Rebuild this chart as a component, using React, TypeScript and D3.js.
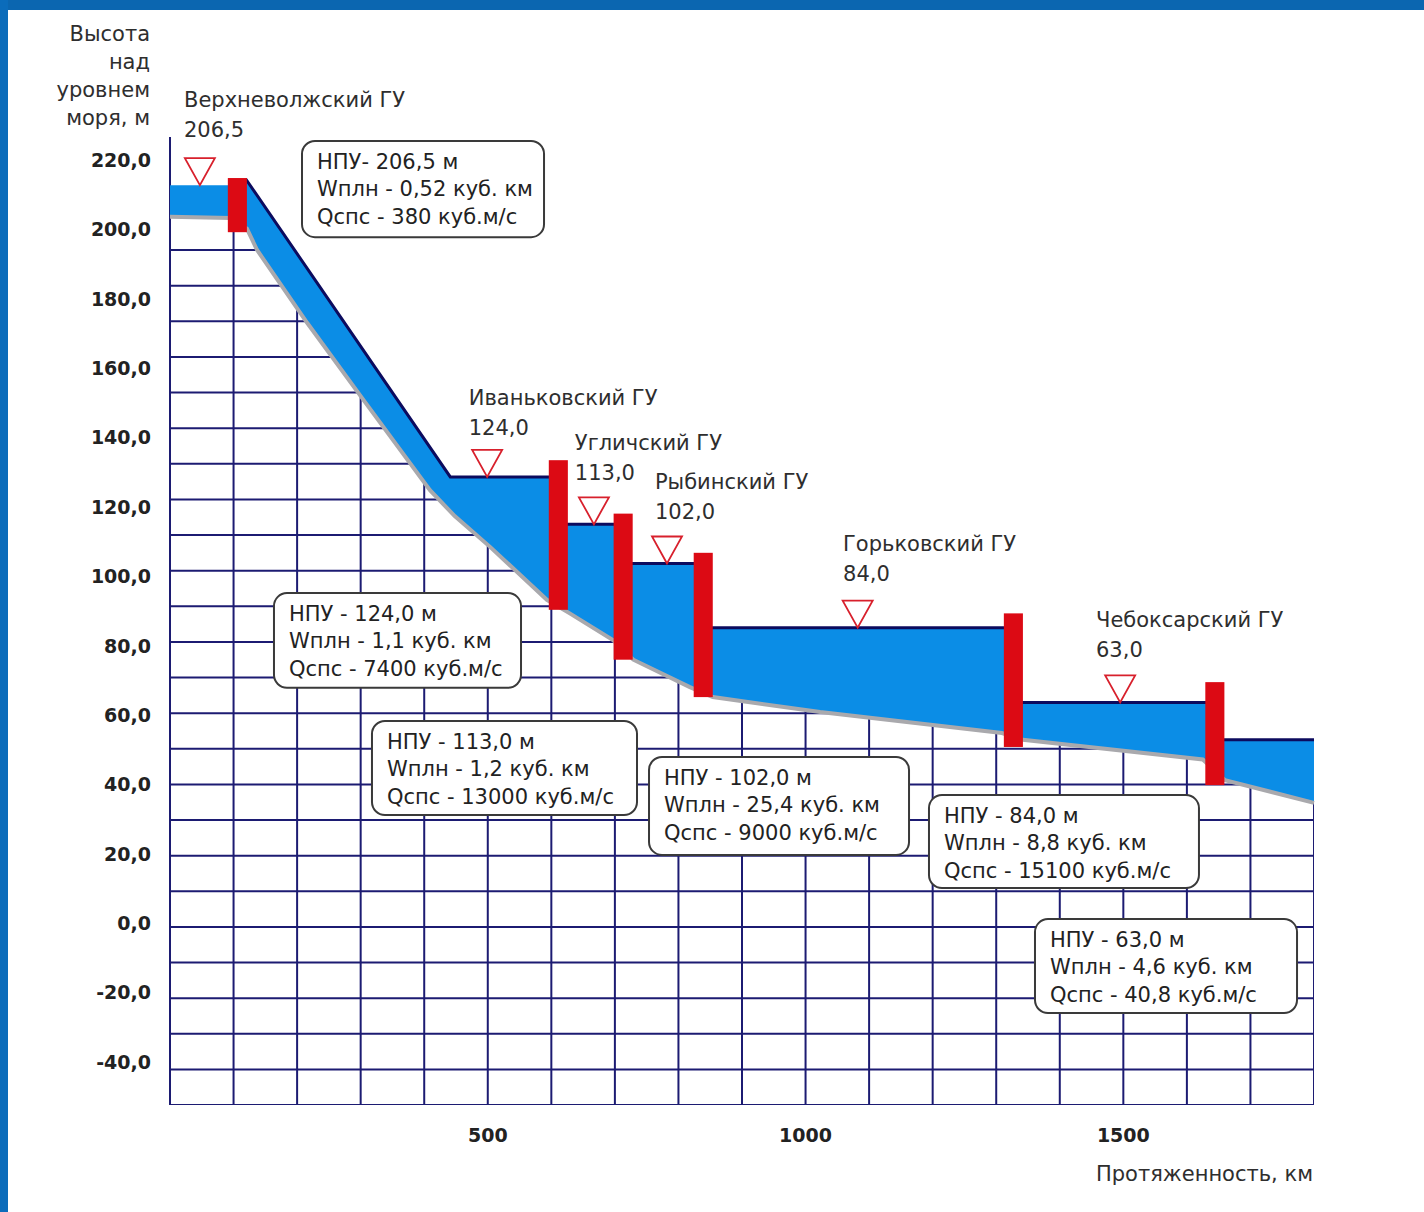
import * as d3 from "d3";

const width = 1424;
const height = 1212;

// river bed (grey line), km along the river / m above sea level
const bedKm = [0, 95, 121, 137, 216, 302, 409, 448, 504, 593, 629, 697, 729, 818, 854, 1023, 1309, 1342, 1625, 1660, 1800];
const bedM = [199.3, 199, 196, 190, 169.5, 148.5, 122.6, 115.3, 106.6, 91.8, 88, 80.5, 75, 67.3, 64.5, 60.3, 54.4, 52.5, 47, 41.2, 34.8];

// water surface of each reach
const reachKm = [[0, 106], [119, 441, 611], [611, 713], [713, 839], [839, 1327], [1327, 1644], [1644, 1800]];
const reachM = [[208.2, 208.2], [210, 126.3, 126.3], [113, 113], [102, 102], [84, 84], [63, 63], [52.5, 52.5]];

// dams
const damKm = [106, 611, 713, 839, 1327, 1644];
const damTop = [210.2, 131, 116, 105, 88, 68.7];
const damBottom = [195, 89, 75, 64.5, 50.5, 39.8];

// stations
const stationNames = ["Верхневолжский ГУ", "Иваньковский ГУ", "Угличский ГУ", "Рыбинский ГУ", "Горьковский ГУ", "Чебоксарский ГУ"];
const stationLevels = ["206,5", "124,0", "113,0", "102,0", "84,0", "63,0"];
const markerKm = [47, 499, 667, 782, 1082, 1495];
const markerM = [208.2, 126.3, 113, 102, 84, 63];
const labelKm = [22, 470, 637, 763, 1059, 1457];
const labelM = [232.4, 148.5, 136.1, 124.9, 107.5, 86.4];

// info boxes
const npuText = ["НПУ- 206,5 м", "НПУ - 124,0 м", "НПУ - 113,0 м", "НПУ - 102,0 м", "НПУ - 84,0 м", "НПУ - 63,0 м"];
const wText = ["Wплн - 0,52 куб. км", "Wплн - 1,1 куб. км", "Wплн - 1,2 куб. км", "Wплн - 25,4 куб. км", "Wплн - 8,8 куб. км", "Wплн - 4,6 куб. км"];
const qText = ["Qспс - 380 куб.м/с", "Qспс - 7400 куб.м/с", "Qспс - 13000 куб.м/с", "Qспс - 9000 куб.м/с", "Qспс - 15100 куб.м/с", "Qспс - 40,8 куб.м/с"];
const boxKm = [[207.7, 588.5], [163.6, 552.3], [317.8, 734.8], [753.7, 1162.8], [1194.2, 1619], [1361, 1773.3]];
const boxM = [[220.6, 193.6], [93.7, 67.1], [57.8, 31.4], [47.7, 20.2], [37.0, 10.9], [2.2, -24.2]];

const yTicks = [220, 200, 180, 160, 140, 120, 100, 80, 60, 40, 20, 0, -20, -40];
const xTicks = [500, 1000, 1500];
const yTitle = ["Высота", "над", "уровнем", "моря, м"];

const FONT = "'DejaVu Sans', sans-serif";
const TEXT = "#2e2e2e";
const GRID = "#1c1b72";
const WATER = "#0b8de6";
const SURFACE = "#0c0b5e";
const BED = "#a9a9ad";
const DAM = "#dc0a14";

export default function App() {
  const x = d3.scaleLinear([0, 1800], [170, 1314]);
  const y = d3.scaleLinear([190, -50], [250, 1105]);
  // tick labels of the original sit on their own, slightly compressed, spacing
  const yLabel = d3.scaleLinear([220, -40], [160, 1062]);

  const bed = d3.scaleLinear(bedKm, bedM);

  const bedLine = d3
    .line<number>()
    .x((k) => x(k))
    .y((k, i) => y(bedM[i]));

  const clipPath =
    (bedLine(bedKm) as string) + `L${x(1800)},${y(-50)}L${x(0)},${y(-50)}Z`;

  const reachAreas = reachKm.map((ks, r) => {
    const surf = d3.scaleLinear(ks, reachM[r]);
    const lo = ks[0];
    const hi = ks[ks.length - 1];
    const pts = Array.from(new Set([...ks, ...bedKm.filter((k) => k > lo && k < hi)])).sort((a, b) => a - b);
    const area = d3
      .area<number>()
      .x((k) => x(k))
      .y0((k) => y(bed(k)))
      .y1((k) => y(surf(k)));
    const top = d3
      .line<number>()
      .x((k) => x(k))
      .y((k) => y(surf(k)));
    return { area: area(pts) as string, top: top(ks) as string };
  });

  const hLines = d3.range(190, -51, -10);
  const vLines = d3.range(100, 1801, 100);

  const tri = (k: number, m: number) => {
    const cx = x(k);
    const cy = y(m);
    return `M${cx},${cy}L${cx - 15},${cy - 27}L${cx + 15},${cy - 27}Z`;
  };

  return (
    <div style={{ position: "absolute", left: 0, top: 0, background: "#fff" }}>
      <svg width={width} height={height} style={{ display: "block" }}>
        <rect width={width} height={height} fill="#fff" />
        <rect width={width} height={10} fill="#0b66b0" />
        <rect width={8} height={height} fill="#0b6cbb" />

        <defs>
          <clipPath id="below-bed">
            <path d={clipPath} />
          </clipPath>
        </defs>

        {/* grid, only below the river bed */}
        <g clipPath="url(#below-bed)" stroke={GRID} strokeWidth={2}>
          {hLines.map((m) => (
            <line key={"h" + m} x1={x(0)} x2={x(1800)} y1={y(m)} y2={y(m)} />
          ))}
          {vLines.map((k) => (
            <line key={"v" + k} x1={x(k)} x2={x(k)} y1={y(230)} y2={y(-50)} />
          ))}
        </g>
        <line x1={x(0)} x2={x(0)} y1={y(221.7)} y2={y(-50)} stroke={GRID} strokeWidth={2} />

        {/* water */}
        {reachAreas.map((r, i) => (
          <path key={"a" + i} d={r.area} fill={WATER} />
        ))}
        <path d={bedLine(bedKm) as string} fill="none" stroke={BED} strokeWidth={4} />
        {reachAreas.map((r, i) =>
          i === 0 ? null : (
            <path key={"t" + i} d={r.top} fill="none" stroke={SURFACE} strokeWidth={3} />
          ),
        )}

        {/* dams */}
        {damKm.map((k, i) => (
          <rect
            key={"d" + i}
            x={x(k - 15)}
            width={x(k + 15) - x(k - 15)}
            y={y(damTop[i])}
            height={y(damBottom[i]) - y(damTop[i])}
            fill={DAM}
          />
        ))}

        {/* level markers and names */}
        {markerKm.map((k, i) => (
          <path key={"m" + i} d={tri(k, markerM[i])} fill="#fff" stroke="#d8202c" strokeWidth={1.8} />
        ))}
        <g fontFamily={FONT} fontSize={21} fill={TEXT}>
          {stationNames.map((n, i) => (
            <g key={"s" + i}>
              <text x={x(labelKm[i])} y={y(labelM[i])} dy="0.36em">
                {n}
              </text>
              <text x={x(labelKm[i])} y={y(labelM[i]) + 30} dy="0.36em">
                {stationLevels[i]}
              </text>
            </g>
          ))}
        </g>

        {/* info boxes */}
        {npuText.map((t, i) => {
          const bx = x(boxKm[i][0]);
          const bw = x(boxKm[i][1]) - bx;
          const by = y(boxM[i][0]);
          const bh = y(boxM[i][1]) - by;
          return (
            <g key={"b" + i}>
              <rect x={bx} y={by} width={bw} height={bh} rx={13} fill="#fff" stroke="#3a3a3a" strokeWidth={2} />
              <g fontFamily={FONT} fontSize={21} fill="#222">
                {[t, wText[i], qText[i]].map((s, j) => (
                  <text key={j} x={bx + 15} y={by + 20 + j * 27.5} dy="0.36em">
                    {s}
                  </text>
                ))}
              </g>
            </g>
          );
        })}

        {/* axes labels */}
        <g fontFamily={FONT} fontSize={19} fontWeight="bold" fill="#222" textAnchor="end">
          {yTicks.map((v) => (
            <text key={"yt" + v} x={151} y={yLabel(v)} dy="0.36em">
              {d3.format(".1f")(v).replace(".", ",").replace("−", "-")}
            </text>
          ))}
        </g>
        <g fontFamily={FONT} fontSize={19} fontWeight="bold" fill="#222" textAnchor="middle">
          {xTicks.map((v) => (
            <text key={"xt" + v} x={x(v)} y={1135} dy="0.36em">
              {v}
            </text>
          ))}
        </g>
        <g fontFamily={FONT} fontSize={21} fill={TEXT} textAnchor="end">
          {yTitle.map((s, i) => (
            <text key={"yl" + i} x={150} y={33 + i * 28} dy="0.36em">
              {s}
            </text>
          ))}
          <text x={1313} y={1173} dy="0.36em">
            Протяженность, км
          </text>
        </g>
      </svg>
    </div>
  );
}
